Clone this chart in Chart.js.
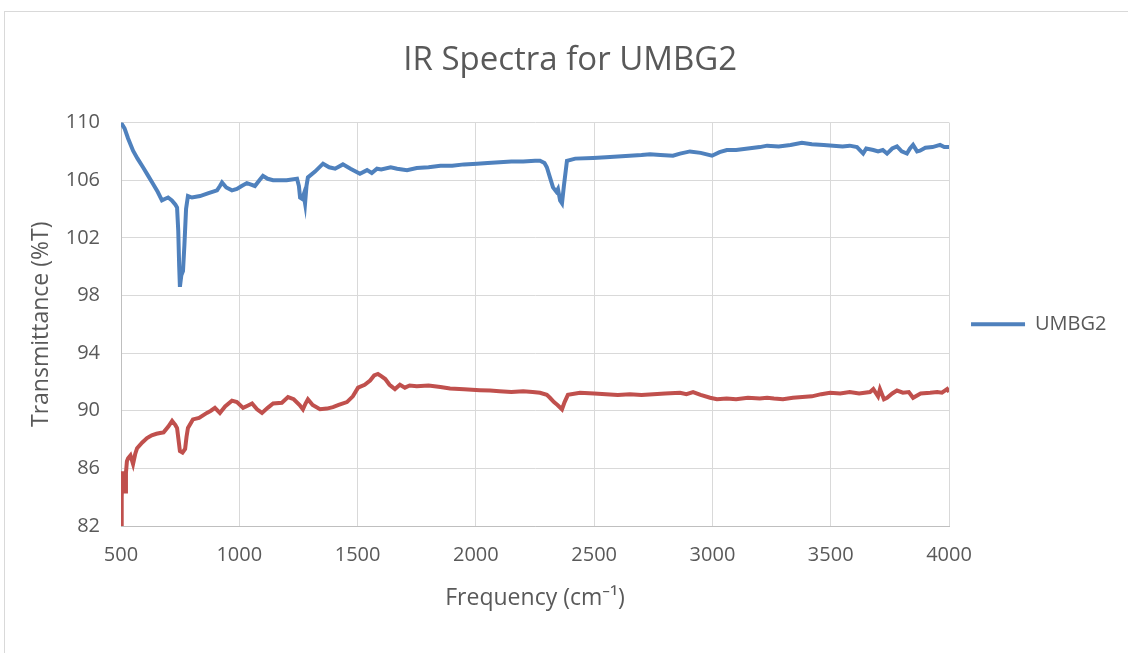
<!DOCTYPE html>
<html>
<head>
<meta charset="utf-8">
<script src="https://cdn.jsdelivr.net/npm/chart.js@4/dist/chart.umd.min.js"></script>
<style>
  html, body { margin: 0; padding: 0; background: #fff; overflow: hidden; }
  #wrap { position: absolute; left: 4px; top: 11px; width: 1124px; height: 642px; border: 1px solid #d9d9d9; }
</style>
</head>
<body>
<div id="wrap"><canvas id="myChart" width="1124" height="642"></canvas></div>
<script>
const xTicks = [500, 1000, 1500, 2000, 2500, 3000, 3500, 4000];
const yTicks = [82, 86, 90, 94, 98, 102, 106, 110];

const blueFreq = [500, 515, 530, 551, 570, 593, 615, 635, 655, 673, 685, 699, 715, 730, 737, 742, 746, 749, 755, 762,
  768, 775, 783, 800, 834, 870, 906, 918, 927, 945, 969, 990, 1010, 1032, 1050, 1066, 1085, 1100, 1120, 1143,
  1200, 1244, 1252, 1257, 1266, 1272, 1278, 1284, 1290, 1320, 1354, 1380, 1405, 1438, 1470, 1510, 1540, 1560, 1582, 1600,
  1640, 1667, 1709, 1750, 1800, 1850, 1900, 1950, 2005, 2050, 2100, 2150, 2200, 2250, 2271, 2290, 2300, 2315, 2326, 2340,
  2347, 2356, 2364, 2372, 2385, 2420, 2495, 2550, 2600, 2650, 2700, 2736, 2780, 2833, 2863, 2905, 2950, 2998, 3030, 3061,
  3100, 3150, 3200, 3231, 3280, 3330, 3378, 3420, 3470, 3510, 3550, 3580, 3611, 3637, 3650, 3680, 3700, 3720, 3738, 3760,
  3780, 3800, 3822, 3835, 3848, 3865, 3877, 3900, 3930, 3962, 3980, 4000];
const blueT = [110.0, 109.6, 108.9, 108.05, 107.5, 106.9, 106.3, 105.76, 105.2, 104.6, 104.7, 104.8, 104.6, 104.3, 104.1, 102.5, 100.0, 98.6, 99.4, 99.7,
  101.5, 104.0, 104.9, 104.8, 104.9, 105.1, 105.3, 105.6, 105.85, 105.5, 105.3, 105.4, 105.6, 105.8, 105.7, 105.6, 106.0, 106.3, 106.1, 106.0,
  106.0, 106.1, 105.6, 104.8, 104.7, 105.0, 104.4, 105.6, 106.2, 106.6, 107.15, 106.9, 106.8, 107.1, 106.8, 106.45, 106.7, 106.5, 106.8, 106.75,
  106.9, 106.8, 106.7, 106.85, 106.9, 107.0, 107.0, 107.1, 107.15, 107.2, 107.25, 107.3, 107.3, 107.35, 107.35, 107.2, 106.9, 106.1, 105.5, 105.2,
  105.4, 104.6, 104.4, 105.6, 107.35, 107.5, 107.55, 107.6, 107.65, 107.7, 107.75, 107.8, 107.75, 107.7, 107.85, 108.0, 107.9, 107.7, 107.95, 108.1,
  108.1, 108.2, 108.3, 108.4, 108.35, 108.45, 108.6, 108.5, 108.45, 108.4, 108.35, 108.4, 108.3, 107.85, 108.2, 108.1, 108.0, 108.1, 107.85, 108.2,
  108.35, 108.0, 107.85, 108.2, 108.45, 108.0, 108.05, 108.25, 108.3, 108.45, 108.3, 108.3];

const redFreq = [500, 503, 506, 512, 517, 521, 525, 530, 540, 551, 560, 568, 590, 610, 630, 650, 665, 680, 700, 716,
  730, 737, 743, 749, 760, 771, 777, 783, 804, 830, 863, 880, 897, 918, 940, 969, 990, 1016, 1035, 1054,
  1075, 1096, 1120, 1143, 1180, 1206, 1230, 1255, 1269, 1280, 1290, 1310, 1341, 1370, 1396, 1420, 1455, 1480, 1502, 1530,
  1553, 1570, 1586, 1600, 1617, 1635, 1658, 1679, 1700, 1720, 1750, 1800, 1850, 1891, 1950, 2017, 2060, 2100, 2150, 2200,
  2240, 2271, 2300, 2313, 2330, 2345, 2364, 2375, 2389, 2440, 2500, 2550, 2600, 2651, 2700, 2750, 2800, 2863, 2890, 2918,
  2950, 2990, 3019, 3060, 3100, 3150, 3200, 3231, 3260, 3298, 3340, 3380, 3420, 3460, 3497, 3540, 3580, 3620, 3666, 3680,
  3700, 3708, 3725, 3738, 3760, 3780, 3805, 3830, 3848, 3880, 3920, 3950, 3970, 3992, 4000];
const redT = [81.9, 84.0, 85.8, 85.2, 84.4, 85.7, 86.5, 86.7, 86.9, 86.3, 87.0, 87.4, 87.8, 88.1, 88.3, 88.4, 88.45, 88.5, 88.9, 89.3,
  89.0, 88.8, 88.0, 87.2, 87.1, 87.35, 88.2, 88.8, 89.4, 89.5, 89.85, 90.0, 90.2, 89.85, 90.3, 90.7, 90.6, 90.2, 90.35, 90.5,
  90.1, 89.85, 90.2, 90.5, 90.55, 90.95, 90.8, 90.4, 90.1, 90.5, 90.8, 90.4, 90.1, 90.15, 90.25, 90.4, 90.6, 91.0, 91.6, 91.8,
  92.1, 92.45, 92.55, 92.4, 92.2, 91.8, 91.5, 91.8, 91.6, 91.75, 91.7, 91.75, 91.65, 91.55, 91.5, 91.43, 91.4, 91.35, 91.3, 91.35,
  91.3, 91.25, 91.1, 90.9, 90.6, 90.4, 90.1, 90.6, 91.1, 91.25, 91.2, 91.15, 91.1, 91.15, 91.1, 91.15, 91.2, 91.25, 91.15, 91.3,
  91.1, 90.9, 90.8, 90.85, 90.8, 90.9, 90.85, 90.9, 90.85, 90.8, 90.9, 90.95, 91.0, 91.15, 91.25, 91.2, 91.3, 91.2, 91.3, 91.5,
  91.0, 91.5, 90.8, 90.9, 91.2, 91.4, 91.25, 91.3, 90.9, 91.2, 91.25, 91.3, 91.25, 91.5, 91.3];

const toPoints = (xs, ys) => xs.map((x, i) => ({ x: x, y: ys[i] }));

const font = "'Open Sans', 'Noto Sans', sans-serif";
const grey = "#595959";

const config = {
  type: "line",
  data: {
    datasets: [
      {
        label: "UMBG2",
        data: toPoints(blueFreq, blueT),
        borderColor: "#4F81BD",
        backgroundColor: "#4F81BD",
        borderWidth: 4,
        pointRadius: 0,
        tension: 0,
      },
      {
        label: "series2",
        data: toPoints(redFreq, redT),
        borderColor: "#C0504D",
        backgroundColor: "#C0504D",
        borderWidth: 4,
        pointRadius: 0,
        tension: 0,
      },
    ],
  },
  options: {
    responsive: false,
    animation: false,
    layout: { padding: { left: 19, right: 12.5, top: 0, bottom: 38 } },
    plugins: {
      title: {
        display: true,
        text: "IR Spectra for UMBG2",
        color: grey,
        font: { family: font, size: 33, weight: "normal" },
        padding: { top: 29, bottom: 42 },
      },
      legend: {
        position: "right",
        fullSize: false,
        labels: {
          color: grey,
          font: { family: font, size: 20 },
          usePointStyle: true,
          pointStyle: "line",
          pointStyleWidth: 54,
          padding: 22,
          filter: (item) => item.text === "UMBG2",
        },
      },
      tooltip: { enabled: false },
    },
    scales: {
      x: {
        type: "linear",
        min: 500,
        max: 4000,
        afterBuildTicks: (axis) => { axis.ticks = xTicks.map((v) => ({ value: v })); },
        afterFit: (axis) => { axis.height = 90; },
        grid: { color: "#d9d9d9", drawTicks: false },
        border: { color: "#bfbfbf" },
        ticks: { color: grey, font: { family: font, size: 20 }, padding: 17, callback: (v) => String(v) },
        title: {
          display: true,
          text: "Frequency (cm\u207B\u00B9)",
          color: grey,
          font: { family: font, size: 23 },
          padding: { top: 4, bottom: 4 },
        },
      },
      y: {
        min: 82,
        max: 110,
        afterBuildTicks: (axis) => { axis.ticks = yTicks.map((v) => ({ value: v })); },
        afterFit: (axis) => { axis.width = 97; },
        grid: { color: "#d9d9d9", drawTicks: false },
        border: { color: "#bfbfbf" },
        ticks: { color: grey, font: { family: font, size: 20 }, padding: 21, callback: (v) => String(v) },
        title: {
          display: true,
          text: "Transmittance (%T)",
          color: grey,
          font: { family: font, size: 23 },
          padding: { top: 4, bottom: 4 },
        },
      },
    },
  },
};

const myChart = new Chart(document.getElementById("myChart"), config);
</script>
</body>
</html>
